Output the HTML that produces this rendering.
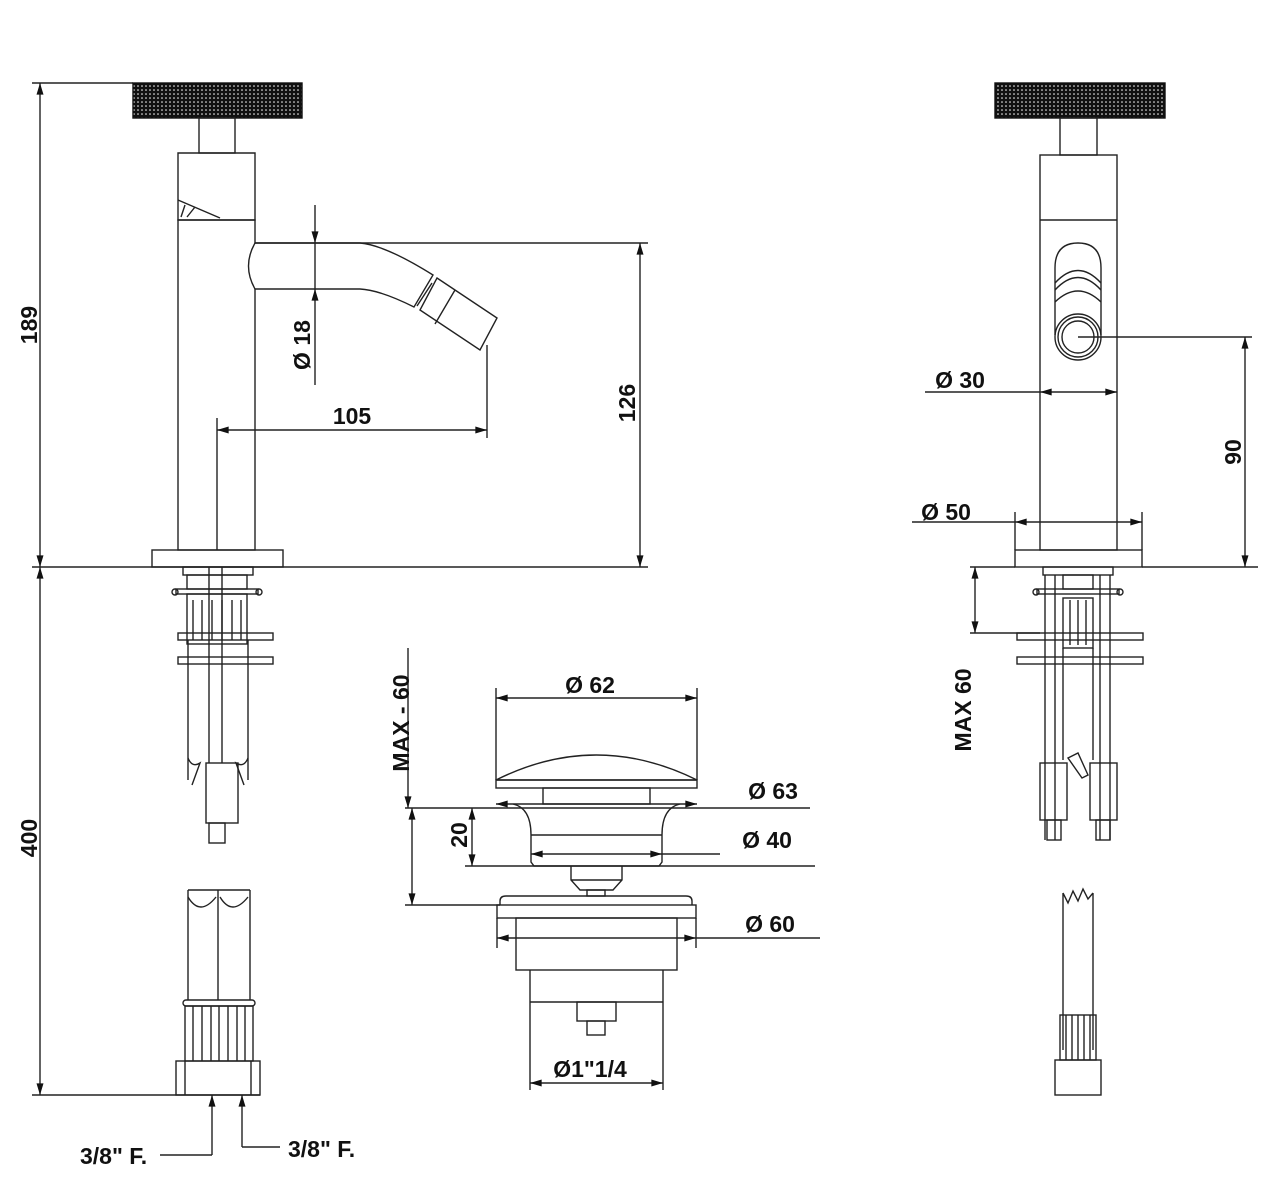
<!DOCTYPE html>
<html><head><meta charset="utf-8"><style>
html,body{margin:0;padding:0;background:#fff}
svg{display:block}
text{font-family:"Liberation Sans",Arial,sans-serif;font-weight:bold;font-size:23px;fill:#111}
</style></head><body>
<svg width="1272" height="1178" viewBox="0 0 1272 1178" xmlns="http://www.w3.org/2000/svg">
<defs>
<pattern id="kn" width="4" height="4" patternUnits="userSpaceOnUse">
<rect width="4" height="4" fill="#111"/><circle cx="2" cy="2" r="0.8" fill="#fff"/>
</pattern>
<marker id="a" viewBox="0 0 10 6" refX="10" refY="3" markerWidth="18" markerHeight="7" markerUnits="userSpaceOnUse" orient="auto-start-reverse"><path d="M0,0L10,3L0,6z" fill="#111"/></marker>
</defs>
<g fill="none" stroke="#222" stroke-width="1.4">
<!-- LEFT VIEW -->
<line x1="32" y1="83" x2="133" y2="83"/>
<line x1="40" y1="83" x2="40" y2="567" marker-start="url(#a)" marker-end="url(#a)"/>
<line x1="40" y1="567" x2="40" y2="1095" marker-start="url(#a)" marker-end="url(#a)"/>
<line x1="32" y1="567" x2="648" y2="567"/>
<line x1="32" y1="1095" x2="260" y2="1095"/>
<rect x="133" y="83" width="169" height="35" fill="url(#kn)" stroke="#111"/>
<rect x="199" y="118" width="36" height="35"/>
<path d="M178,153H255V220H178Z"/>
<path d="M178,200L220,218"/><path d="M185,205l-4,12M195,207l-8,10"/>
<rect x="178" y="220" width="77" height="330"/>
<path d="M255,243H360Q385,245 433,275L414,307Q380,290 360,289H255Q242,266 255,243Z" fill="#fff"/>
<path d="M437,278L497,318L480,350L420,310Z M432,283L417,306 M455,290L435,324"/>
<line x1="255" y1="243" x2="648" y2="243"/>
<line x1="640" y1="243" x2="640" y2="567" marker-start="url(#a)" marker-end="url(#a)"/>
<line x1="315" y1="205" x2="315" y2="243" marker-end="url(#a)"/>
<line x1="315" y1="385" x2="315" y2="289" marker-end="url(#a)"/>
<line x1="315" y1="243" x2="315" y2="289"/>
<line x1="217" y1="418" x2="217" y2="550"/>
<line x1="487" y1="345" x2="487" y2="438"/>
<line x1="217" y1="430" x2="487" y2="430" marker-start="url(#a)" marker-end="url(#a)"/>
<rect x="152" y="550" width="131" height="17"/>
<!-- under parts left -->
<rect x="183" y="567" width="70" height="8"/>
<rect x="187" y="575" width="60" height="14"/>
<rect x="176" y="589" width="82" height="5"/><circle cx="175" cy="592" r="3"/><circle cx="259" cy="592" r="3"/>
<rect x="187" y="594" width="60" height="50"/>
<path d="M193,600v40M202,600v40M212,600v40M222,600v40M232,600v40M241,600v40"/>
<rect x="178" y="633" width="95" height="7"/>
<rect x="178" y="657" width="95" height="7"/>
<path d="M188,640V780M248,640V780M209,567V763M222,567V763"/>
<path d="M188,758q4,10 12,5l-8,22M248,758q-4,10 -12,5l8,22"/>
<rect x="206" y="763" width="32" height="60"/>
<rect x="209" y="823" width="16" height="20"/>
<!-- lower hoses -->
<path d="M188,890V1000M218,890V1000M250,890V1000"/>
<path d="M188,890h62M188,897q12,20 28,0M220,897q12,20 28,0"/>
<rect x="183" y="1000" width="72" height="6" rx="3"/>
<rect x="185" y="1006" width="68" height="55"/>
<path d="M193,1006v55M202,1006v55M211,1006v55M228,1006v55M237,1006v55M245,1006v55M219,1006v55"/>
<rect x="176" y="1061" width="84" height="34"/>
<path d="M185,1061v34M251,1061v34"/>
<line x1="212" y1="1155" x2="212" y2="1095" marker-end="url(#a)"/>
<line x1="160" y1="1155" x2="212" y2="1155"/>
<line x1="242" y1="1147" x2="242" y2="1095" marker-end="url(#a)"/>
<line x1="242" y1="1147" x2="280" y2="1147"/>
<!-- MIDDLE WASTE -->
<line x1="408" y1="648" x2="408" y2="808" marker-end="url(#a)"/>
<line x1="412" y1="808" x2="412" y2="905" marker-start="url(#a)" marker-end="url(#a)"/>
<line x1="472" y1="808" x2="472" y2="866" marker-start="url(#a)" marker-end="url(#a)"/>
<line x1="405" y1="808" x2="810" y2="808"/>
<line x1="465" y1="866" x2="815" y2="866"/>
<line x1="405" y1="905" x2="500" y2="905"/>
<line x1="496" y1="688" x2="496" y2="780"/><line x1="697" y1="688" x2="697" y2="780"/>
<line x1="496" y1="698" x2="697" y2="698" marker-start="url(#a)" marker-end="url(#a)"/>
<path d="M496,780Q596,730 697,780Z"/>
<rect x="496" y="780" width="201" height="8"/>
<rect x="543" y="788" width="107" height="16"/>
<line x1="496" y1="804" x2="697" y2="804" marker-start="url(#a)" marker-end="url(#a)"/>
<path d="M513,804Q531,808 531,835V862l3,4H659l3,-4V835Q662,808 680,804"/>
<line x1="531" y1="835" x2="662" y2="835"/>
<line x1="531" y1="854" x2="662" y2="854" marker-start="url(#a)" marker-end="url(#a)"/>
<line x1="662" y1="854" x2="720" y2="854"/>
<path d="M571,866V880L580,890H613L622,880V866M571,880H622"/>
<rect x="587" y="890" width="18" height="6"/>
<path d="M500,905V901Q500,896 506,896H686Q692,896 692,901V905"/>
<rect x="497" y="905" width="199" height="13"/>
<rect x="516" y="918" width="161" height="52"/>
<line x1="497" y1="918" x2="497" y2="948"/><line x1="696" y1="918" x2="696" y2="948"/>
<line x1="497" y1="938" x2="696" y2="938" marker-start="url(#a)" marker-end="url(#a)"/>
<line x1="696" y1="938" x2="820" y2="938"/>
<line x1="530" y1="970" x2="530" y2="1090"/><line x1="663" y1="970" x2="663" y2="1090"/>
<line x1="530" y1="1002" x2="663" y2="1002"/>
<rect x="577" y="1002" width="39" height="19"/>
<rect x="587" y="1021" width="18" height="14"/>
<line x1="530" y1="1083" x2="663" y2="1083" marker-start="url(#a)" marker-end="url(#a)"/>
<!-- RIGHT VIEW -->
<rect x="995" y="83" width="170" height="35" fill="url(#kn)" stroke="#111"/>
<rect x="1060" y="118" width="37" height="37"/>
<rect x="1040" y="155" width="77" height="395"/>
<line x1="1040" y1="220" x2="1117" y2="220"/>
<path d="M1055,335V268Q1055,243 1078,243Q1101,243 1101,268V335"/>
<path d="M1055,290Q1078,265 1101,290M1055,283Q1078,258 1101,283M1055,302Q1078,280 1101,302"/>
<circle cx="1078" cy="337" r="23"/><circle cx="1078" cy="337" r="20"/><circle cx="1078" cy="337" r="16"/>
<line x1="1078" y1="337" x2="1252" y2="337"/>
<line x1="1245" y1="337" x2="1245" y2="567" marker-start="url(#a)" marker-end="url(#a)"/>
<line x1="925" y1="392" x2="1040" y2="392"/>
<line x1="1040" y1="392" x2="1117" y2="392" marker-start="url(#a)" marker-end="url(#a)"/>
<line x1="1015" y1="512" x2="1015" y2="550"/><line x1="1142" y1="512" x2="1142" y2="550"/>
<line x1="912" y1="522" x2="1015" y2="522"/>
<line x1="1015" y1="522" x2="1142" y2="522" marker-start="url(#a)" marker-end="url(#a)"/>
<rect x="1015" y="550" width="127" height="17"/>
<line x1="1142" y1="567" x2="1258" y2="567"/>
<line x1="975" y1="567" x2="975" y2="633" marker-start="url(#a)" marker-end="url(#a)"/>
<line x1="970" y1="567" x2="1015" y2="567"/>
<line x1="970" y1="633" x2="1040" y2="633"/>
<rect x="1043" y="567" width="70" height="8"/>
<rect x="1063" y="575" width="30" height="14"/>
<rect x="1037" y="589" width="82" height="5"/><circle cx="1036" cy="592" r="3"/><circle cx="1120" cy="592" r="3"/>
<rect x="1063" y="598" width="30" height="50"/>
<path d="M1070,600v45M1078,600v45M1086,600v45"/>
<rect x="1017" y="633" width="126" height="7"/>
<rect x="1017" y="657" width="126" height="7"/>
<path d="M1045,575V840M1055,575V840M1100,575V840M1110,575V840M1063,648V760M1093,648V760"/>
<rect x="1040" y="763" width="27" height="57"/>
<rect x="1090" y="763" width="27" height="57"/>
<path d="M1068,758l10,-5l10,22l-6,3Z"/>
<rect x="1047" y="820" width="14" height="20"/>
<rect x="1096" y="820" width="14" height="20"/>
<path d="M1063,893V1050M1093,893V1050M1063,893l5,10l5,-12l5,10l5,-12l5,10l5,-6"/>
<rect x="1060" y="1015" width="36" height="45"/>
<path d="M1066,1015v45M1072,1015v45M1078,1015v45M1084,1015v45M1090,1015v45"/>
<rect x="1055" y="1060" width="46" height="35"/>
</g>
<!-- TEXT -->
<text transform="translate(37,325) rotate(-90)" text-anchor="middle">189</text>
<text transform="translate(37,838) rotate(-90)" text-anchor="middle">400</text>
<text transform="translate(310,345) rotate(-90)" text-anchor="middle">Ø 18</text>
<text x="352" y="424" text-anchor="middle">105</text>
<text transform="translate(635,403) rotate(-90)" text-anchor="middle">126</text>
<text x="80" y="1164">3/8" F.</text>
<text x="288" y="1157">3/8" F.</text>
<text transform="translate(409,723) rotate(-90)" text-anchor="middle">MAX - 60</text>
<text transform="translate(467,835) rotate(-90)" text-anchor="middle">20</text>
<text x="590" y="693" text-anchor="middle">Ø 62</text>
<text x="773" y="799" text-anchor="middle">Ø 63</text>
<text x="767" y="848" text-anchor="middle">Ø 40</text>
<text x="770" y="932" text-anchor="middle">Ø 60</text>
<text x="590" y="1077" text-anchor="middle">Ø1"1/4</text>
<text x="960" y="388" text-anchor="middle">Ø  30</text>
<text x="946" y="520" text-anchor="middle">Ø  50</text>
<text transform="translate(1241,452) rotate(-90)" text-anchor="middle">90</text>
<text transform="translate(971,710) rotate(-90)" text-anchor="middle">MAX 60</text>
</svg>
</body></html>
